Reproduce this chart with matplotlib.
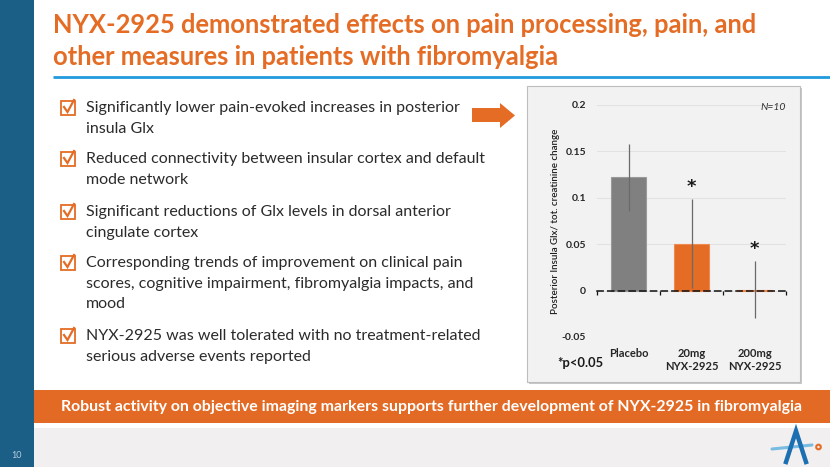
import matplotlib
matplotlib.use("Agg")
import matplotlib.pyplot as plt
from matplotlib.patches import Rectangle, Polygon, Circle
import numpy as np

W, H = 830, 467

# chart data
categories = ["Placebo", "20mg\nNYX-2925", "200mg\nNYX-2925"]
glx_change = [0.122, 0.0505, 0.001]
glx_err = [0.036, 0.048, 0.031]
significant = [False, True, True]
bar_colors = ["#808080", "#E46C24", "#E46C24"]
y_ticks = [-0.05, 0, 0.05, 0.1, 0.15, 0.2]
y_tick_labels = ["-0.05", "0", "0.05", "0.1", "0.15", "0.2"]

title_lines = ["NYX-2925 demonstrated effects on pain processing, pain, and",
               "other measures in patients with fibromyalgia"]
bullets = [
    ["Significantly lower pain-evoked increases in posterior", "insula Glx"],
    ["Reduced connectivity between insular cortex and default", "mode network"],
    ["Significant reductions of Glx levels in dorsal anterior", "cingulate cortex"],
    ["Corresponding trends of improvement on clinical pain",
     "scores, cognitive impairment, fibromyalgia impacts, and", "mood"],
    ["NYX-2925 was well tolerated with no treatment-related",
     "serious adverse events reported"],
]
banner_text = ("Robust activity on objective imaging markers supports further "
               "development of NYX-2925 in fibromyalgia")

ORANGE = "#E46C24"
BLUE = "#1B5E86"
TEXT = "#2B2B2B"

fig = plt.figure(figsize=(W / 100, H / 100), dpi=100)
fig.patch.set_facecolor("white")

# slide layer in pixel coordinates
bg = fig.add_axes([0, 0, 1, 1])
bg.set_xlim(0, W)
bg.set_ylim(H, 0)
bg.axis("off")

bg.add_patch(Rectangle((34, 428), W - 34, H - 428, color="#F1EFEF", lw=0))
bg.add_patch(Rectangle((0, 0), 34, H, color=BLUE, lw=0))
bg.text(17, 456, "10", color="#B9CDE0", fontsize=6.5, ha="center", va="center",
        family="Lato")

# title
for i, line in enumerate(title_lines):
    bg.text(53, 33 + i * 32, line, color=ORANGE, fontsize=18.4, fontweight="bold",
            family="Lato", ha="left", va="baseline")
bg.plot([53, W], [76.5, 76.5], color="#1F9BDE", lw=2, solid_capstyle="butt")

# bullets
first_y = [108, 159, 212, 263, 336]
for y0, lines in zip(first_y, bullets):
    bg.add_patch(Rectangle((61, y0 - 7), 14, 14, fill=False, ec=ORANGE, lw=1.3))
    bg.plot([64, 67.5, 74], [y0 - 1, y0 + 4, y0 - 8], color=ORANGE, lw=1.6,
            solid_joinstyle="miter")
    for j, line in enumerate(lines):
        bg.text(86, y0 + j * 20.7, line, color=TEXT, fontsize=11.5, family="Lato",
                ha="left", va="center")

# arrow
bg.add_patch(Polygon([(472, 108), (500, 108), (500, 103), (515, 115.5),
                      (500, 128), (500, 122), (472, 122)], closed=True,
                     color=ORANGE, lw=0))

# chart panel
bg.add_patch(Rectangle((529, 88), 273, 296, color="#C8C8C8", lw=0))
bg.add_patch(Rectangle((527, 86), 273, 296, fc="#F2F2F2", ec="#BDBDBD", lw=0.8))

# banner
bg.add_patch(Rectangle((34, 390), W - 34, 33, color="#E36A24", lw=0))
bg.text(431, 407, banner_text, color="white", fontsize=11.4, fontweight="bold",
        family="Lato", ha="center", va="center")

# logo
bg.plot([772, 812], [449, 445], color="#5AAFE0", lw=2.2, alpha=0.8,
        solid_capstyle="round")
bg.plot([786, 796, 806], [462, 431, 462], color="#1C6FB0", lw=3.2,
        solid_joinstyle="miter")
bg.add_patch(Circle((818.5, 447), 2.3, fill=False, ec=ORANGE, lw=1.5))

# chart axes
ax = fig.add_axes([597 / W, 1 - 337 / H, 189 / W, 232 / H])
ax.set_facecolor("none")
x = np.arange(len(categories))
ax.bar(x, glx_change, width=0.54, color=bar_colors,
       edgecolor=["#9A9A9A", "#F08A50", "#F08A50"], lw=0.8, zorder=3)
ax.errorbar(x, glx_change, yerr=glx_err, fmt="none", ecolor="#6A6A6A",
            elinewidth=0.9, capsize=0, zorder=4)
for xi, v, e, s in zip(x, glx_change, glx_err, significant):
    if s:
        ax.text(xi, v + e + 0.003, "*", ha="center", va="bottom", fontsize=13,
                fontweight="bold", color="#1A1A1A", family="DejaVu Sans", zorder=5)

ax.set_xlim(-0.5, len(categories) - 0.5)
ax.set_ylim(-0.05, 0.2)
ax.set_yticks(y_ticks)
ax.set_yticklabels(y_tick_labels)
ax.set_xticks(x)
ax.set_xticklabels(categories)
for lab in ax.get_xticklabels():
    lab.set_fontsize(8)
    lab.set_fontweight("bold")
    lab.set_family("Lato")
    lab.set_color("#262626")
for lab in ax.get_yticklabels():
    lab.set_fontsize(7.5)
    lab.set_fontweight("bold")
    lab.set_family("Lato")
    lab.set_color("#262626")
ax.tick_params(axis="both", length=0)
ax.tick_params(axis="x", pad=8)
ax.tick_params(axis="y", pad=8)
for sp in ax.spines.values():
    sp.set_visible(False)
ax.grid(axis="y", color="#E2E2E2", lw=0.8, zorder=0)
ax.set_axisbelow(True)

# dashed zero axis with boundary ticks
zero_pos = (0 - (-0.05)) / 0.25
sec = ax.secondary_xaxis(zero_pos)
sec.set_zorder(6)
sec.set_xticks(np.arange(len(categories) + 1) - 0.5)
sec.set_xticklabels([])
sec.tick_params(length=3, width=0.9, color="#111111", direction="out")
sec.spines["bottom"].set_linestyle((0, (4, 3)))
sec.spines["bottom"].set_color("#111111")
sec.spines["bottom"].set_linewidth(1.1)

ax.set_ylabel("Posterior Insula Glx/ tot. creatinine change", fontsize=7,
              family="Lato", fontweight="semibold", color="#1E1E1E")
ax.yaxis.set_label_coords(-0.196, 0.5)

ax.text(1.0, 0.99, "N=10", transform=ax.transAxes, ha="right", va="center",
        fontsize=7.5, style="italic", family="Lato", color="#333333")
fig.text(557 / W, 1 - 363 / H, "*p<0.05", ha="left", va="center", fontsize=9.3,
         fontweight="bold", family="Lato", color="#1A1A1A")

fig.savefig("out.png", dpi=100)
